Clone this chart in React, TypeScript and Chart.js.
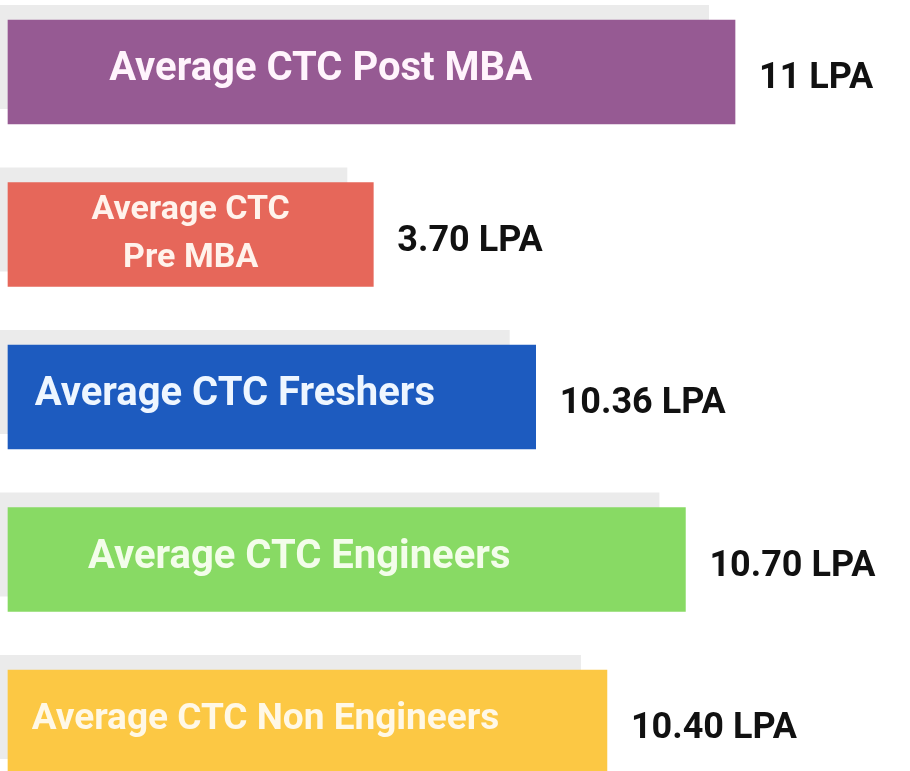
import React, { useEffect, useRef } from "react";
import { Chart, registerables } from "chart.js";

Chart.register(...registerables);

// Categories (text drawn inside each bar)
const categories: string[] = [
  "Average CTC Post MBA",
  "Average CTC\nPre MBA",
  "Average CTC Freshers",
  "Average CTC Engineers",
  "Average CTC Non Engineers",
];

// Average CTC values (lakh per annum), shown as labels
const ctcValues: number[] = [11, 3.7, 10.36, 10.7, 10.4];
const valueLabels: string[] = ["11 LPA", "3.70 LPA", "10.36 LPA", "10.70 LPA", "10.40 LPA"];

// Bar lengths as drawn in the infographic (percent of the full width; not proportional to values)
const barLengths: number[] = [80.6, 40.5, 58.5, 75.1, 66.4];

const barColors: string[] = ["#965a93", "#e6675a", "#1d5bbf", "#88da64", "#fcc844"];
const textColors: string[] = ["#fff4fc", "#fff3ec", "#eef6ff", "#f3fdea", "#fff8e6"];

const FONT = "Roboto, 'Noto Sans', sans-serif";

const shadowPlugin = {
  id: "barShadows",
  beforeDatasetsDraw(chart: any) {
    const ctx = chart.ctx;
    const meta = chart.getDatasetMeta(0);
    ctx.save();
    ctx.fillStyle = "#ebebeb";
    meta.data.forEach((bar: any) => {
      const h = bar.height;
      const top = bar.y - h / 2 - 15;
      const right = bar.x - 26;
      ctx.fillRect(0, top, right, h);
    });
    ctx.restore();
  },
};

const labelPlugin = {
  id: "barLabels",
  afterDatasetsDraw(chart: any) {
    const ctx = chart.ctx;
    const meta = chart.getDatasetMeta(0);
    ctx.save();
    meta.data.forEach((bar: any, i: number) => {
      const lines = categories[i].split("\n");
      const left = bar.base;
      const width = bar.x - bar.base;
      ctx.fillStyle = textColors[i];
      ctx.textAlign = "center";
      ctx.textBaseline = "middle";
      if (lines.length > 1) {
        ctx.font = `700 34px ${FONT}`;
        const cx = left + width * 0.5;
        const lh = 48;
        lines.forEach((ln, k) => {
          ctx.fillText(ln, cx, bar.y + (k - (lines.length - 1) / 2) * lh);
        });
      } else {
        const size = lines[0].length > 22 ? 37 : 40;
        ctx.font = `700 ${size}px ${FONT}`;
        const cx = left + width * 0.43;
        ctx.fillText(lines[0], cx, bar.y - 2);
      }
      ctx.fillStyle = "#111111";
      ctx.textAlign = "left";
      ctx.font = `700 36px ${FONT}`;
      ctx.fillText(valueLabels[i], bar.x + 24, bar.y + 7);
    });
    ctx.restore();
  },
};

export default function App() {
  const canvasRef = useRef<HTMLCanvasElement | null>(null);

  useEffect(() => {
    document.body.style.margin = "0";
    document.body.style.background = "#ffffff";
    const canvas = canvasRef.current;
    if (!canvas) return;
    const chart = new Chart(canvas, {
      type: "bar",
      data: {
        labels: categories.map((c) => c.replace("\n", " ")),
        datasets: [
          {
            label: "Average CTC",
            data: barLengths,
            backgroundColor: barColors,
            borderWidth: 0,
            barThickness: 104,
            clip: false,
          } as any,
        ],
      },
      options: {
        indexAxis: "y",
        animation: false,
        responsive: true,
        maintainAspectRatio: false,
        layout: { padding: { left: 8, right: 0, top: 72, bottom: 49 } },
        plugins: {
          legend: { display: false },
          tooltip: { enabled: false },
        },
        scales: {
          x: { display: false, min: 0, max: 100 },
          y: { display: false, offset: false },
        },
      },
      plugins: [shadowPlugin, labelPlugin],
    });
    return () => chart.destroy();
  }, []);

  return (
    <div style={{ width: 910, height: 771, position: "relative" }}>
      <canvas ref={canvasRef} />
    </div>
  );
}
